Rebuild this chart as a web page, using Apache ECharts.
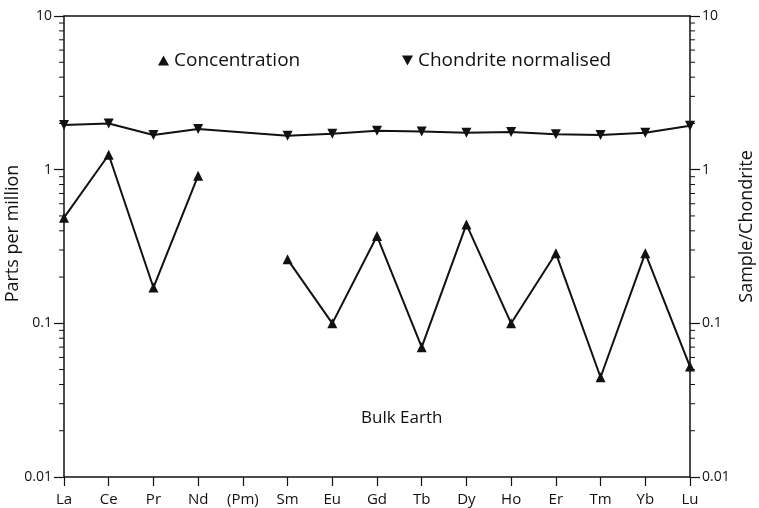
<!DOCTYPE html>
<html>
<head>
<meta charset="utf-8">
<script src="https://cdn.jsdelivr.net/npm/echarts@6/dist/echarts.min.js"></script>
<style>
  html, body { margin: 0; padding: 0; background: #fff; }
  #chart { width: 759px; height: 508px; }
</style>
</head>
<body>
<div id="chart"></div>
<script>
// Rare earth elements, in atomic order (Pm has no value)
const elements = ['La', 'Ce', 'Pr', 'Nd', '(Pm)', 'Sm', 'Eu', 'Gd', 'Tb', 'Dy', 'Ho', 'Er', 'Tm', 'Yb', 'Lu'];

// Bulk Earth concentration, ppm
const concentration = [0.487, 1.25, 0.171, 0.914, null, 0.261, 0.100, 0.37, 0.070, 0.44, 0.100, 0.286, 0.0446, 0.286, 0.0523];

// Bulk Earth / chondrite ratio
const chondriteNormalised = [1.95, 2.00, 1.68, 1.84, null, 1.66, 1.71, 1.79, 1.77, 1.74, 1.76, 1.70, 1.68, 1.74, 1.93];

// Log axis range and the intermediate (2..9 per decade) tick values
const axisMin = 0.01;
const axisMax = 10;
const minorTickValues = [];
[0.01, 0.1, 1].forEach(d => { for (let m = 2; m <= 9; m++) minorTickValues.push(+(m * d).toPrecision(3)); });

const FONT = '"Open Sans", "Noto Sans", sans-serif';
const INK = '#111';

const chart = echarts.init(document.getElementById('chart'), null, { renderer: 'canvas' });

const logAxis = (position, name) => ({
  type: 'log',
  logBase: 10,
  min: axisMin,
  max: axisMax,
  position: position,
  name: name,
  nameLocation: 'middle',
  nameMoveOverlap: false,
  nameGap: position === 'left' ? 42 : 48,
  nameTextStyle: { color: INK, fontFamily: FONT, fontSize: 18, padding: position === 'left' ? [0, 0, 0, 26] : [0, 0, 0, 40] },
  axisLine: { show: true, lineStyle: { color: INK, width: 1.5 } },
  axisTick: { show: true, inside: false, length: 10, lineStyle: { color: INK, width: 1.2 } },
  minorTick: { show: false },
  splitLine: { show: false },
  axisLabel: { color: INK, fontFamily: FONT, fontSize: 14, margin: 12 }
});

chart.setOption({
  animation: false,
  backgroundColor: '#fff',
  grid: { left: 64, right: 69, top: 16, bottom: 31, containLabel: false, outerBoundsMode: 'none' },
  legend: [
    {
      left: 153, top: 46,
      itemWidth: 11, itemHeight: 10, itemGap: 0,
      textStyle: { color: INK, fontFamily: FONT, fontSize: 19 },
      data: [{ name: 'Concentration', icon: 'triangle' }],
      selectedMode: false
    },
    {
      left: 397, top: 46,
      itemWidth: 11, itemHeight: 10, itemGap: 0,
      textStyle: { color: INK, fontFamily: FONT, fontSize: 19 },
      data: [{ name: 'Chondrite normalised', icon: 'path://M0,0L10,0L5,9Z' }],
      selectedMode: false
    }
  ],
  title: {
    text: 'Bulk Earth',
    left: 356, top: 405,
    textStyle: { color: INK, fontFamily: FONT, fontSize: 17, fontWeight: 'normal' }
  },
  xAxis: [
    {
      type: 'category',
      data: elements,
      boundaryGap: false,
      position: 'bottom',
      axisLine: { show: true, onZero: false, lineStyle: { color: INK, width: 1.5 } },
      axisTick: { show: true, alignWithLabel: true, length: 9, lineStyle: { color: INK, width: 1.2 } },
      axisLabel: { color: INK, fontFamily: FONT, fontSize: 15, margin: 15, interval: 0 },
      splitLine: { show: false }
    },
    {
      type: 'category',
      data: elements,
      boundaryGap: false,
      position: 'top',
      axisLine: { show: true, onZero: false, lineStyle: { color: INK, width: 1.5 } },
      axisTick: { show: false },
      axisLabel: { show: false },
      splitLine: { show: false }
    }
  ],
  yAxis: [
    logAxis('left', 'Parts per million'),
    logAxis('right', 'Sample/Chondrite')
  ],
  series: [
    {
      name: 'Concentration',
      type: 'line',
      xAxisIndex: 0,
      yAxisIndex: 0,
      data: concentration,
      connectNulls: false,
      symbol: 'triangle',
      symbolSize: 10,
      showAllSymbol: true,
      itemStyle: { color: INK },
      lineStyle: { color: INK, width: 2 },
      z: 3
    },
    {
      name: 'Chondrite normalised',
      type: 'line',
      xAxisIndex: 0,
      yAxisIndex: 1,
      data: chondriteNormalised,
      connectNulls: true,
      symbol: 'triangle',
      symbolRotate: 180,
      symbolSize: 10,
      showAllSymbol: true,
      itemStyle: { color: INK },
      lineStyle: { color: INK, width: 2 },
      z: 3
    },
    {
      // short intermediate ticks on both log axes
      name: 'minor ticks',
      type: 'custom',
      xAxisIndex: 0,
      yAxisIndex: 0,
      silent: true,
      clip: false,
      data: minorTickValues.map(v => [0, v]),
      renderItem: function (params, api) {
        const v = api.value(1);
        const pl = api.coord([0, v]);
        const pr = api.coord([elements.length - 1, v]);
        const style = { stroke: INK, lineWidth: 1 };
        return {
          type: 'group',
          children: [
            { type: 'line', shape: { x1: pl[0] - 5, y1: pl[1], x2: pl[0], y2: pl[1] }, style: style },
            { type: 'line', shape: { x1: pr[0], y1: pr[1], x2: pr[0] + 5, y2: pr[1] }, style: style }
          ]
        };
      }
    }
  ]
});
</script>
</body>
</html>
